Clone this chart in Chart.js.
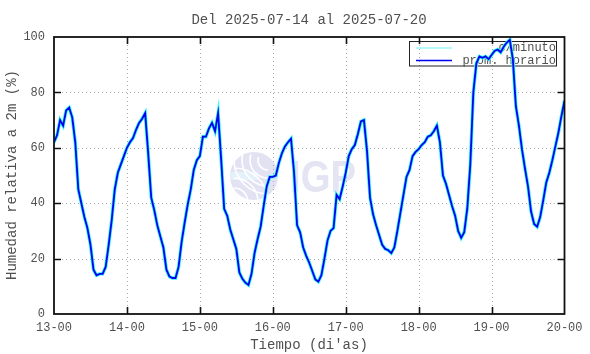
<!DOCTYPE html>
<html><head><meta charset="utf-8">
<script src="https://cdn.jsdelivr.net/npm/chart.js@4.4.1/dist/chart.umd.min.js"></script>
<style>html,body{margin:0;padding:0;background:#fff}#wrap{width:590px;height:354px;position:relative}</style>
</head><body><div id="wrap"><canvas id="c" width="590" height="354"></canvas></div>
<script>
const titleText = 'Del 2025-07-14 al 2025-07-20';
const yTitle = 'Humedad relativa a 2m (%)';
const xTitle = "Tiempo (di'as)";
const dayLabels = ['13-00','14-00','15-00','16-00','17-00','18-00','19-00','20-00'];
const yTicks = [0, 20, 40, 60, 80, 100];
const legendLabels = ['c/minuto', 'prom. horario'];

// hourly mean relative humidity (%), one value per hour
const hum13 = [62, 64.5, 70, 68, 73.5, 74.5, 71, 62, 45, 40, 35, 31, 25, 16, 14, 14.5, 14.5, 17, 25, 34, 45, 51, 54, 57];
const hum14 = [60, 62, 63.5, 66.5, 69, 70.5, 72.5, 58, 42, 37.5, 32, 28, 24, 16, 13.5, 13, 13, 17, 26, 33, 39.5, 45, 52, 55.5];
const hum15 = [57, 64, 64, 67, 69, 66, 72.5, 56, 38, 35.5, 30.5, 27, 23.5, 15, 12.7, 11.3, 10.5, 14.5, 22, 27, 31.5, 39, 46, 49.5];
const hum16 = [49.5, 50, 54.5, 58, 60.5, 62, 63.3, 51, 32, 29.5, 24, 21, 18.5, 15.5, 12.5, 11.7, 14, 20, 26.5, 30, 31, 43, 41.5, 46];
const hum17 = [51, 57, 59.5, 61, 65, 69.5, 70, 59, 42, 36, 32, 28.5, 25, 23.5, 23, 22, 24, 30, 36.5, 43, 49.5, 52, 57, 58.5];
const hum18 = [59.5, 61, 62, 64, 64.5, 66, 68, 62, 50, 47, 43, 39, 35.5, 30, 27.5, 29.5, 38, 54, 80, 90.5, 93, 92.5, 93, 92];
const hum19 = [93.5, 95, 95.5, 94.5, 96.5, 98, 99, 92, 75, 68, 59.5, 52.5, 46, 37, 32.5, 31.5, 35, 41, 47.5, 51, 55.5, 60.5, 65.5, 71.5];
const hum20 = [77];

const hourly = [].concat(hum13, hum14, hum15, hum16, hum17, hum18, hum19, hum20);
const hourlyPts = hourly.map((v, i) => ({x: i, y: v}));

const MONO = '"Liberation Mono", "DejaVu Sans Mono", monospace';
const TXT = '#505050';

const decor = {
  id: 'decor',
  beforeDatasetsDraw(chart) {
    const ctx = chart.ctx, a = chart.chartArea;
    const xs = chart.scales.x, ys = chart.scales.y;
    ctx.save();
    // watermark
    const cx = 254, cy = 176, r = 24;
    ctx.beginPath(); ctx.arc(cx, cy, r, 0, Math.PI * 2); ctx.fillStyle = '#e2e2f3'; ctx.fill();
    ctx.save(); ctx.beginPath(); ctx.arc(cx, cy, r, 0, Math.PI * 2); ctx.clip();
    ctx.fillStyle = '#e4f1fb';
    ctx.beginPath(); ctx.moveTo(cx - r, cy - 4); ctx.lineTo(cx + 4, cy - 4); ctx.lineTo(cx + 4, cy + 4); ctx.lineTo(cx - r, cy + 4); ctx.fill();
    ctx.strokeStyle = '#ffffff'; ctx.lineWidth = 1.6;
    [10, 18, 26, 34].forEach(rr => { ctx.beginPath(); ctx.arc(cx + 14, cy - 16, rr, 0.5 * Math.PI, 1.1 * Math.PI); ctx.stroke(); });
    [14, 24, 34].forEach(rr => { ctx.beginPath(); ctx.arc(cx - 20, cy + 26, rr, 1.5 * Math.PI, 2 * Math.PI); ctx.stroke(); });
    ctx.restore();
    ctx.fillStyle = '#e4e4f3';
    ctx.font = 'bold 44px "Liberation Sans", Arial, sans-serif';
    ctx.textAlign = 'left'; ctx.textBaseline = 'alphabetic';
    ctx.save(); ctx.translate(290, 192); ctx.scale(0.87, 1); ctx.fillText('IGP', 0, 0); ctx.restore();
    // dotted grid
    ctx.strokeStyle = '#a8a8a8'; ctx.lineWidth = 1; ctx.setLineDash([1, 3]);
    for (let i = 1; i < dayLabels.length - 1; i++) {
      const x = Math.round(xs.getPixelForValue(i * 24)) + 0.5;
      ctx.beginPath(); ctx.moveTo(x, a.top); ctx.lineTo(x, a.bottom); ctx.stroke();
    }
    for (let j = 1; j < yTicks.length - 1; j++) {
      const y = Math.round(ys.getPixelForValue(yTicks[j])) + 0.5;
      ctx.beginPath(); ctx.moveTo(a.left, y); ctx.lineTo(a.right, y); ctx.stroke();
    }
    ctx.setLineDash([]);
    // legend
    ctx.strokeStyle = '#222'; ctx.lineWidth = 1;
    ctx.strokeRect(409.5, 41.5, 147, 24.5);
    ctx.lineWidth = 1.5;
    ctx.strokeStyle = '#9ff7f7'; ctx.beginPath(); ctx.moveTo(416, 48); ctx.lineTo(452, 48); ctx.stroke();
    ctx.strokeStyle = '#0000f0'; ctx.beginPath(); ctx.moveTo(416, 60.5); ctx.lineTo(452, 60.5); ctx.stroke();
    ctx.fillStyle = TXT; ctx.font = '12px ' + MONO; ctx.textAlign = 'right'; ctx.textBaseline = 'middle';
    ctx.fillText(legendLabels[0], 556, 48);
    ctx.fillText(legendLabels[1], 556, 60.5);
    ctx.restore();
  },
  afterDatasetsDraw(chart) {
    const ctx = chart.ctx, a = chart.chartArea;
    const xs = chart.scales.x, ys = chart.scales.y;
    ctx.save();
    ctx.strokeStyle = '#111'; ctx.lineWidth = 1.6;
    ctx.beginPath();
    for (let i = 1; i < dayLabels.length - 1; i++) {
      const x = Math.round(xs.getPixelForValue(i * 24)) + 0.5;
      ctx.moveTo(x, a.bottom); ctx.lineTo(x, a.bottom - 7);
      ctx.moveTo(x, a.top); ctx.lineTo(x, a.top + 7);
    }
    for (let j = 1; j < yTicks.length - 1; j++) {
      const y = Math.round(ys.getPixelForValue(yTicks[j])) + 0.5;
      ctx.moveTo(a.left, y); ctx.lineTo(a.left + 7, y);
      ctx.moveTo(a.right, y); ctx.lineTo(a.right - 7, y);
    }
    ctx.stroke();
    ctx.lineWidth = 1.8;
    ctx.strokeRect(a.left, a.top, a.right - a.left, a.bottom - a.top);
    // titles
    ctx.fillStyle = TXT; ctx.font = '14px ' + MONO; ctx.textAlign = 'center'; ctx.textBaseline = 'alphabetic';
    ctx.fillText(titleText, 309, 23.5);
    ctx.textBaseline = 'middle';
    ctx.fillText(xTitle, 309, 345.5);
    ctx.save(); ctx.translate(12.5, 175); ctx.rotate(-Math.PI / 2); ctx.fillText(yTitle, 0, 0); ctx.restore();
    ctx.restore();
  }
};

new Chart(document.getElementById('c'), {
  type: 'line',
  data: {
    datasets: [
      {label: legendLabels[1], data: hourlyPts, borderColor: '#0000f0', borderWidth: 1.8, pointRadius: 0, tension: 0, order: 1},
      {label: legendLabels[0], data: hourlyPts, borderColor: '#30f4f4', borderWidth: 3.4, pointRadius: 0, tension: 0, order: 2}
    ]
  },
  options: {
    responsive: false, animation: false, devicePixelRatio: 1,
    layout: {padding: {left: 0, right: 25.5, top: 37, bottom: 0}},
    plugins: {legend: {display: false}, tooltip: {enabled: false}, title: {display: false}},
    scales: {
      x: {
        type: 'linear', min: 0, max: (dayLabels.length - 1) * 24,
        afterFit: s => { s.height = 40; },
        afterBuildTicks: s => { s.ticks = dayLabels.map((_, i) => ({value: i * 24})); },
        ticks: {callback: v => dayLabels[Math.round(v / 24)], font: {family: MONO, size: 12}, color: TXT, padding: 7, maxRotation: 0, autoSkip: false},
        grid: {display: false, drawTicks: false}, border: {display: false}
      },
      y: {
        type: 'linear', min: 0, max: 100,
        afterFit: s => { s.width = 54; },
        afterBuildTicks: s => { s.ticks = yTicks.map(v => ({value: v})); },
        ticks: {font: {family: MONO, size: 12}, color: TXT, padding: 9},
        grid: {display: false, drawTicks: false}, border: {display: false}
      }
    }
  },
  plugins: [decor]
});
</script>
</body></html>
